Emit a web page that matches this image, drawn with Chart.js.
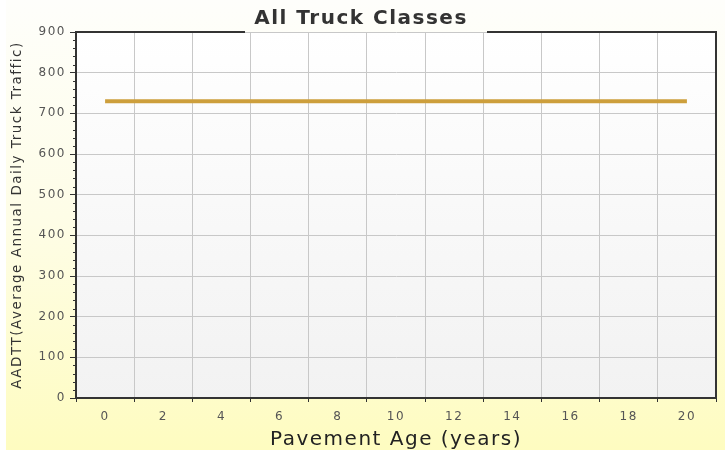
<!DOCTYPE html>
<html>
<head>
<meta charset="utf-8">
<script src="https://cdn.jsdelivr.net/npm/chart.js@4"></script>
<style>
  html, body { margin: 0; padding: 0; background: #fff; }
  #wrap { width: 728px; height: 454px; }
</style>
</head>
<body>
<div id="wrap"><canvas id="truckChart" width="728" height="454"></canvas></div>
<script>
const years = ['0', '2', '4', '6', '8', '10', '12', '14', '16', '18', '20'];
const aadtt = [730, 730, 730, 730, 730, 730, 730, 730, 730, 730, 730];
const yMin = 0, yMax = 900, yStep = 100, yMinorStep = 20;

const FONT = "'DejaVu Sans', Verdana, sans-serif";

// panel background, frame, title gap and minor ticks
const framePlugin = {
  id: 'frame',
  beforeDraw(chart) {
    const ctx = chart.ctx;
    const area = chart.chartArea;
    ctx.save();
    ctx.fillStyle = '#ffffff';
    ctx.fillRect(0, 0, chart.width, chart.height);
    let g = ctx.createLinearGradient(0, 0, 0, 450);
    g.addColorStop(0, '#fefefb');
    g.addColorStop(0.5, '#fefde6');
    g.addColorStop(1, '#fefcc0');
    ctx.fillStyle = g;
    ctx.fillRect(6, 0, 719, 450);
    g = ctx.createLinearGradient(0, area.top, 0, area.bottom);
    g.addColorStop(0, '#ffffff');
    g.addColorStop(1, '#f2f2f2');
    ctx.fillStyle = g;
    ctx.fillRect(area.left, area.top, area.right - area.left, area.bottom - area.top);
    ctx.restore();
    ctx.letterSpacing = '1.5px';
  },
  afterDraw(chart) {
    const ctx = chart.ctx;
    const area = chart.chartArea;
    const y = chart.scales.y;
    ctx.save();
    ctx.strokeStyle = '#333';
    ctx.lineWidth = 2;
    ctx.beginPath();
    ctx.moveTo(area.left, area.top);
    ctx.lineTo(245, area.top);
    ctx.moveTo(487, area.top);
    ctx.lineTo(area.right, area.top);
    ctx.lineTo(area.right, area.bottom);
    ctx.stroke();
    ctx.lineWidth = 1;
    ctx.beginPath();
    for (let v = yMin; v <= yMax; v += yMinorStep) {
      if (v % yStep === 0) continue;
      const py = Math.round(y.getPixelForValue(v)) + 0.5;
      ctx.moveTo(area.left - 3, py);
      ctx.lineTo(area.left, py);
    }
    ctx.stroke();
    ctx.restore();
  }
};

new Chart(document.getElementById('truckChart'), {
  type: 'line',
  data: {
    labels: years,
    datasets: [{
      label: 'All Truck Classes',
      data: aadtt,
      borderColor: '#cd9f3c',
      borderWidth: 4,
      pointRadius: 0,
      fill: false,
      tension: 0
    }]
  },
  options: {
    responsive: false,
    animation: false,
    layout: { padding: { left: 6, right: 12, top: 0, bottom: 0 } },
    plugins: {
      legend: { display: false },
      tooltip: { enabled: false },
      title: {
        display: true,
        text: 'All Truck Classes',
        color: '#333',
        font: { family: FONT, size: 20, weight: 'bold' },
        padding: { top: 7, bottom: 1 }
      }
    },
    scales: {
      x: {
        type: 'category',
        offset: true,
        afterFit(scale) { scale.height = 56; },
        grid: {
          offset: true,
          color: '#c8c8c8',
          tickColor: '#333',
          tickLength: 4,
          drawOnChartArea: true
        },
        border: { color: '#333', width: 2 },
        ticks: {
          color: '#555',
          font: { family: FONT, size: 12 },
          padding: 8,
          maxRotation: 0,
          autoSkip: false
        },
        title: {
          display: true,
          text: 'Pavement Age (years)',
          color: '#222',
          font: { family: FONT, size: 20 },
          padding: { top: 0, bottom: 2 }
        }
      },
      y: {
        min: yMin,
        max: yMax,
        afterFit(scale) { scale.width = 70; },
        grid: {
          color: '#c8c8c8',
          tickColor: '#333',
          tickLength: 6
        },
        border: { color: '#333', width: 2 },
        ticks: {
          stepSize: yStep,
          color: '#555',
          font: { family: FONT, size: 12 },
          padding: 4
        },
        title: {
          display: true,
          text: 'AADTT(Average Annual Daily Truck Traffic)',
          color: '#333',
          font: { family: FONT, size: 13.5 },
          padding: { top: 3, bottom: 0 }
        }
      }
    }
  },
  plugins: [framePlugin]
});
</script>
</body>
</html>
